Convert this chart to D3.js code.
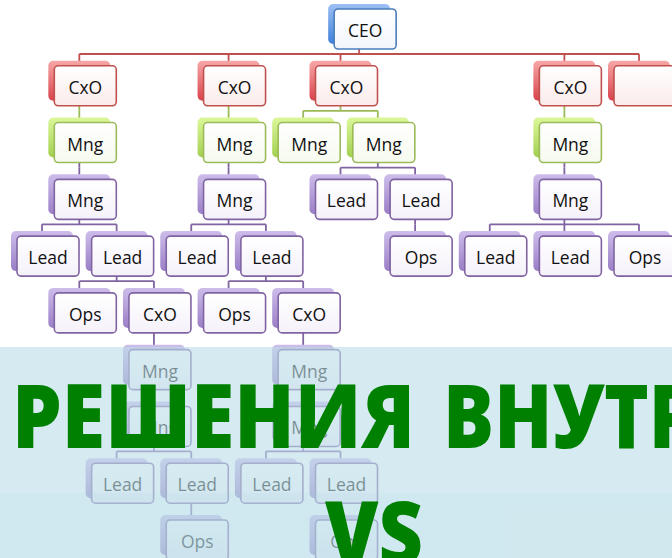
<!DOCTYPE html>
<html>
<head>
<meta charset="utf-8">
<script src="https://cdn.jsdelivr.net/npm/d3@7"></script>
<style>
  body { margin: 0; background: #fff; }
  svg { display: block; }
</style>
</head>
<body>
<script>
// Org chart data: id, label and parent of every box
const nodeIds = d3.range(38).map(String);
const nodeLabels = [
    "CEO",
    "CxO", "Mng", "Mng", "Lead", "Lead", "Ops", "CxO", "Mng", "Mng", "Lead", "Lead", "Ops",
    "CxO", "Mng", "Mng", "Lead", "Lead", "Ops", "CxO", "Mng", "Mng", "Lead", "Lead", "Ops",
    "CxO", "Mng", "Mng", "Lead", "Lead", "Ops",
    "CxO", "Mng", "Mng", "Lead", "Lead", "Ops",
    ""
];
const nodeParents = [
    null,
    0, 1, 2, 3, 3, 5, 5, 7, 8, 9, 9, 11,
    0, 13, 14, 15, 15, 17, 17, 19, 20, 21, 21, 23,
    0, 25, 25, 27, 27, 29,
    0, 31, 32, 33, 33, 33,
    0
];
const titleWords = ["РЕШЕНИЯ", "ВНУТРИ"];
const subTitle = "VS";

const width = 672, height = 558;
const boxW = 62, boxH = 40;

// colour sets by depth: CEO, CxO, first manager level, rest
const palettes = [
    { stroke: "#4a7ebb", fill: "#f2f6fc", top: "#9cc0f4", bottom: "#3f7fdb" },
    { stroke: "#c0504d", fill: "#fcebeb", top: "#f7a7a7", bottom: "#d8434a" },
    { stroke: "#9bbb59", fill: "#f6faee", top: "#dcf79a", bottom: "#a3cf50" },
    { stroke: "#8064a2", fill: "#f5f1fa", top: "#cdbdea", bottom: "#9a7ec6" }
];
const pal = d => palettes[Math.min(d.depth, 3)];

const svg = d3.select("body").append("svg")
    .attr("width", width)
    .attr("height", height);

const defs = svg.append("defs");
palettes.forEach((p, i) => {
    const g = defs.append("linearGradient")
        .attr("id", "sh" + i)
        .attr("x1", 0).attr("y1", 0).attr("x2", 0).attr("y2", 1);
    g.append("stop").attr("offset", "0%").attr("stop-color", p.top);
    g.append("stop").attr("offset", "100%").attr("stop-color", p.bottom);
    const f = defs.append("linearGradient")
        .attr("id", "fr" + i)
        .attr("x1", 0).attr("y1", 0).attr("x2", 0).attr("y2", 1);
    f.append("stop").attr("offset", "0%").attr("stop-color", "#ffffff");
    f.append("stop").attr("offset", "100%").attr("stop-color", p.fill);
});

// Build the hierarchy and lay it out as a tidy tree
const table = nodeIds.map((id, i) => ({
    id: id,
    label: nodeLabels[i],
    parent: nodeParents[i] === null ? "" : String(nodeParents[i])
}));
const root = d3.stratify().id(d => d.id).parentId(d => d.parent || null)(table);
d3.tree().nodeSize([1, 1]).separation(() => 1)(root);
const nodes = root.descendants();

const x = d3.scaleLinear()
    .domain(d3.extent(nodes, d => d.x))
    .range([42, 639]);
const y = d3.scaleLinear()
    .domain([0, 9])
    .range([9, 520]);

// Connectors (drawn first, behind the boxes)
const links = svg.append("g").attr("fill", "none").attr("stroke-width", 1.8);
nodes.filter(d => d.children).forEach(d => {
    const col = pal(d.children[0]).stroke;
    const midY = y(d.depth) + boxH + 5;
    const xs = d.children.map(c => x(c.x));
    links.append("line")
        .attr("x1", x(d.x)).attr("x2", x(d.x))
        .attr("y1", y(d.depth) + boxH / 2).attr("y2", midY)
        .attr("stroke", col);
    if (d.children.length > 1) {
        links.append("line")
            .attr("x1", d3.min(xs)).attr("x2", d3.max(xs))
            .attr("y1", midY).attr("y2", midY)
            .attr("stroke", col);
    }
    d.children.forEach(c => {
        links.append("line")
            .attr("x1", x(c.x)).attr("x2", x(c.x))
            .attr("y1", midY).attr("y2", y(c.depth) + 5)
            .attr("stroke", col);
    });
});

// Boxes
const box = svg.append("g").selectAll("g")
    .data(nodes)
    .join("g");

box.append("rect")
    .attr("x", d => x(d.x) - 31)
    .attr("y", d => y(d.depth) - 5)
    .attr("width", boxW)
    .attr("height", boxH)
    .attr("rx", 5)
    .attr("fill", d => "url(#sh" + Math.min(d.depth, 3) + ")");

box.append("rect")
    .attr("x", d => x(d.x) - 25)
    .attr("y", d => y(d.depth))
    .attr("width", boxW)
    .attr("height", boxH)
    .attr("rx", 4)
    .attr("fill", d => "url(#fr" + Math.min(d.depth, 3) + ")")
    .attr("stroke", d => pal(d).stroke)
    .attr("stroke-width", 1.6);

box.append("text")
    .attr("x", d => x(d.x) + 6)
    .attr("y", d => y(d.depth) + boxH / 2 + 1)
    .attr("text-anchor", "middle")
    .attr("dominant-baseline", "central")
    .attr("font-family", "'Open Sans', sans-serif")
    .attr("font-size", 17.5)
    .attr("fill", "#111")
    .text(d => d.data.label);

// Translucent slide panel over the lower part
svg.append("rect")
    .attr("x", 0).attr("y", 347)
    .attr("width", width).attr("height", height - 347)
    .attr("fill", "rgb(188,222,232)")
    .attr("fill-opacity", 0.61);
svg.append("rect")
    .attr("x", 0).attr("y", 493)
    .attr("width", width).attr("height", height - 493)
    .attr("fill", "rgb(160,205,225)")
    .attr("fill-opacity", 0.1);

// Title text
const title = svg.append("g")
    .attr("font-family", "'Open Sans', sans-serif")
    .attr("font-weight", 800)
    .attr("font-size", 88)
    .attr("fill", "#008000");
title.append("text")
    .attr("x", 12).attr("y", 448)
    .attr("textLength", 403)
    .attr("lengthAdjust", "spacingAndGlyphs")
    .text(titleWords[0]);
title.append("text")
    .attr("x", 443).attr("y", 448)
    .attr("textLength", 318)
    .attr("lengthAdjust", "spacingAndGlyphs")
    .text(titleWords[1]);
title.append("text")
    .attr("x", 325).attr("y", 565)
    .attr("textLength", 98)
    .attr("lengthAdjust", "spacingAndGlyphs")
    .text(subTitle);
</script>
</body>
</html>
